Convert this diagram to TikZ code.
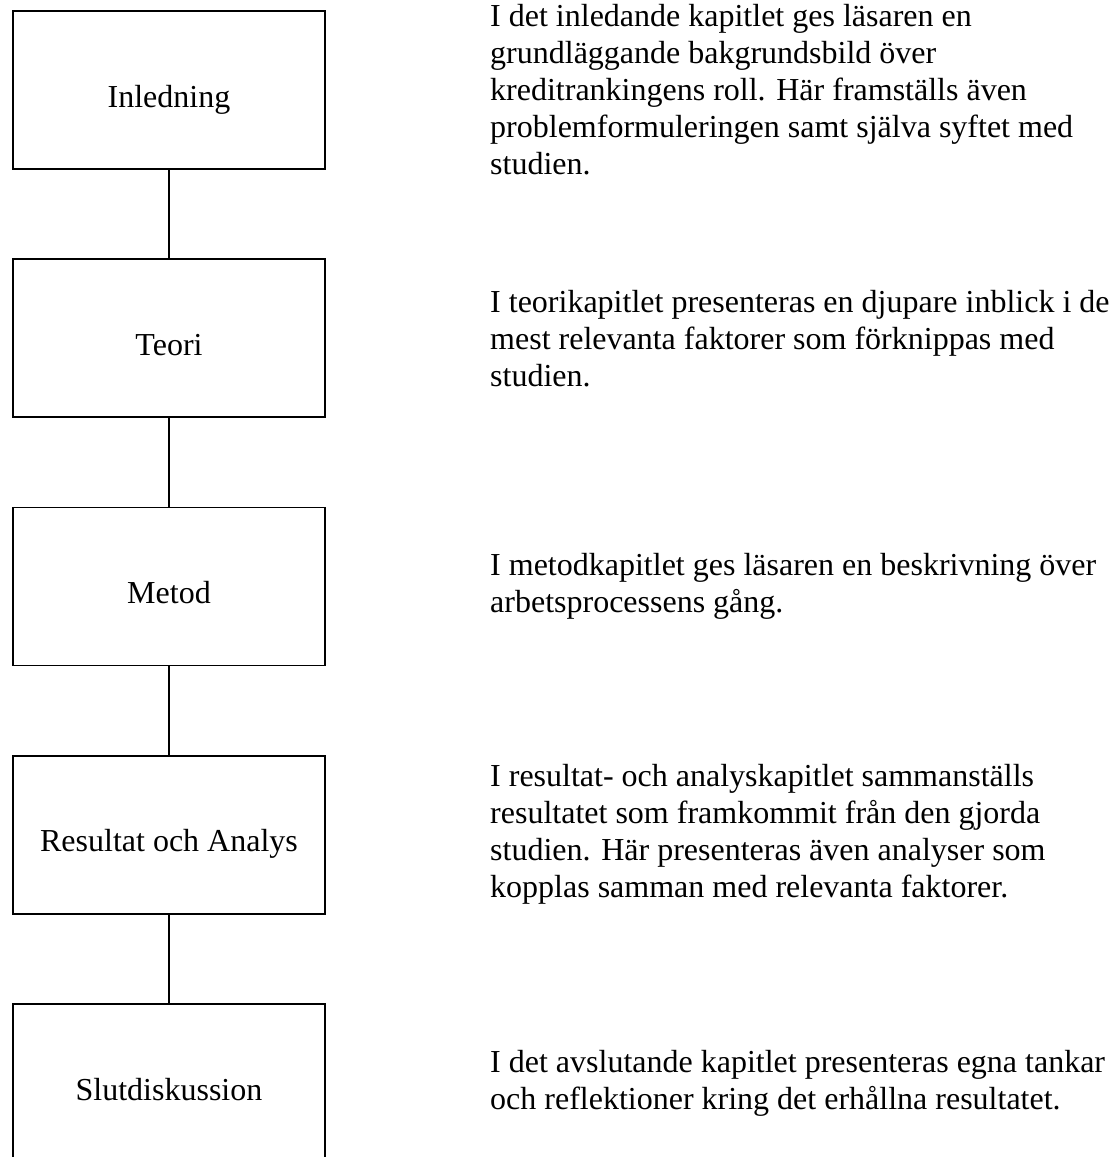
\documentclass[tikz,border=0pt]{standalone}
\usepackage{fontspec}
\setmainfont{Liberation Serif}
\begin{document}
\begin{tikzpicture}[x=1pt,y=-1pt,
  chapbox/.style={draw=black,line width=1.6pt,minimum width=312pt,minimum height=158pt,
    inner sep=0pt,font=\fontsize{32}{37}\selectfont,text height=34pt,text depth=0pt},
  desc/.style={anchor=west,align=left,inner sep=0pt,font=\fontsize{32}{37}\selectfont},
  link/.style={draw=black,line width=1.6pt}]
\useasboundingbox (0,0) rectangle (1119,1157);
\clip (0,0) rectangle (1119,1157);
\fill[white] (0,0) rectangle (1119,1157);
\node[chapbox] (b1) at (169,90) {Inledning};
\node[chapbox] (b2) at (169,338.25) {Teori};
\node[chapbox] (b3) at (169,586.5) {Metod};
\node[chapbox] (b4) at (169,834.75) {Resultat och Analys};
\node[chapbox] (b5) at (169,1083) {Slutdiskussion};
\path[link] (b1.south) -- (b2.north);
\path[link] (b2.south) -- (b3.north);
\path[link] (b3.south) -- (b4.north);
\path[link] (b4.south) -- (b5.north);
\node[desc] (t1) at (490,90) {I det inledande kapitlet ges läsaren en\\grundläggande bakgrundsbild över\\kreditrankingens roll. Här framställs även\\problemformuleringen samt själva syftet med\\studien.};
\node[desc] (t2) at (490,338.25) {I teorikapitlet presenteras en djupare inblick i de\\mest relevanta faktorer som förknippas med\\studien.};
\node[desc] (t3) at (490,586.5) {I metodkapitlet ges läsaren en beskrivning över\\arbetsprocessens gång.};
\node[desc] (t4) at (490,834.75) {I resultat- och analyskapitlet sammanställs\\resultatet som framkommit från den gjorda\\studien. Här presenteras även analyser som\\kopplas samman med relevanta faktorer.};
\node[desc] (t5) at (490,1083) {I det avslutande kapitlet presenteras egna tankar\\och reflektioner kring det erhållna resultatet.};
\end{tikzpicture}
\end{document}
